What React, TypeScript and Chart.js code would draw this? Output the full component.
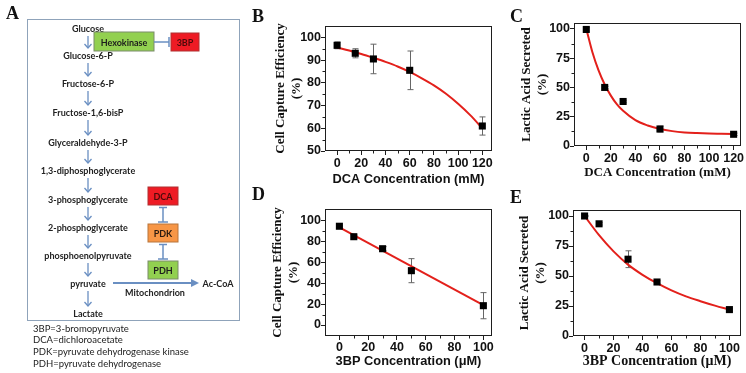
import React, { useEffect, useRef } from "react";
import { Chart, registerables } from "chart.js";

Chart.register(...registerables);

// ---------- Panel B: DCA vs cell capture efficiency ----------
const B_CONC = [0, 15, 30, 60, 120];
const B_EFF = [96.5, 93, 90.5, 85.5, 61];
const B_ERR = [1.5, 2, 6.5, 8.5, 4];
const B_FIT_X = [0, 10, 20, 30, 40, 50, 60, 70, 80, 90, 100, 110, 120];
const B_FIT_Y = [95.5, 94.2, 92.7, 91, 89.2, 87.2, 84.8, 82, 78.9, 75.2, 70.8, 65.8, 60];
const B_X_TICKS = [0, 20, 40, 60, 80, 100, 120];
const B_X_MINOR = [10, 30, 50, 70, 90, 110];
const B_Y_TICKS = [50, 60, 70, 80, 90, 100];
const B_Y_MINOR = [55, 65, 75, 85, 95];

// ---------- Panel C: DCA vs lactic acid ----------
const C_CONC = [0, 15, 30, 60, 120];
const C_LAC = [99.5, 50, 38, 14.5, 10];
const C_ERR = [1.5, 1, 1, 2.5, 1];
const C_FIT_X = [0, 5, 10, 15, 20, 25, 30, 40, 50, 60, 70, 80, 90, 100, 110, 120];
const C_FIT_Y = [100, 80, 64.5, 52.5, 43, 35.5, 30, 22, 17.5, 14.5, 12.7, 11.6, 11, 10.6, 10.4, 10.2];
const C_X_TICKS = [0, 20, 40, 60, 80, 100, 120];
const C_X_MINOR = [10, 30, 50, 70, 90, 110];
const C_Y_TICKS = [0, 25, 50, 75, 100];
const C_Y_MINOR = [12.5, 37.5, 62.5, 87.5];

// ---------- Panel D: 3BP vs cell capture efficiency ----------
const D_CONC = [0, 10, 30, 50, 100];
const D_EFF = [94.5, 84.5, 73, 52, 18.5];
const D_ERR = [1, 1.5, 2, 11.5, 12.5];
const D_FIT_X = [0, 100];
const D_FIT_Y = [93.5, 19];
const D_X_TICKS = [0, 20, 40, 60, 80, 100];
const D_X_MINOR = [10, 30, 50, 70, 90];
const D_Y_TICKS = [0, 20, 40, 60, 80, 100];
const D_Y_MINOR = [10, 30, 50, 70, 90];

// ---------- Panel E: 3BP vs lactic acid ----------
const E_CONC = [0, 10, 30, 50, 100];
const E_LAC = [100, 93.5, 64, 45, 22];
const E_ERR = [0.5, 1, 7, 1, 1];
const E_FIT_X = [0, 10, 20, 30, 40, 50, 60, 70, 80, 90, 100];
const E_FIT_Y = [100, 84, 70.5, 59.5, 51, 44, 38, 33, 29, 25.3, 22];
const E_X_TICKS = [0, 20, 40, 60, 80, 100];
const E_X_MINOR = [10, 30, 50, 70, 90];
const E_Y_TICKS = [0, 25, 50, 75, 100];
const E_Y_MINOR = [12.5, 37.5, 62.5, 87.5];

const SANS = '"Liberation Sans", Arial, sans-serif';
const SERIF = '"Liberation Serif", "Times New Roman", serif';
const RED = "#e3201b";
const AXIS = "#1e1e1e";

type Box = { left: number; top: number; width: number; height: number };
type Area = { left: number; top: number; right: number; bottom: number };

type PanelProps = {
  box: Box;
  area: Area;
  x: number[];
  y: number[];
  err: number[];
  fitX: number[];
  fitY: number[];
  xRange: [number, number];
  yRange: [number, number];
  xTicks: number[];
  xMinor: number[];
  yTicks: number[];
  yMinor: number[];
  xTitle: string;
  xTitleFamily: string;
  xTitleSize: number;
  xTitleCenterY: number;
  yTitle: string[];
  yTitleCenterX: number;
  xTickPad: number;
};

function Panel(p: PanelProps) {
  const ref = useRef<HTMLCanvasElement>(null);
  useEffect(() => {
    const canvas = ref.current;
    if (!canvas) return;
    const { box, area } = p;
    const lh = 1.2;
    const ySize = 13;
    const xTitlePad = box.top + box.height - p.xTitleCenterY - (p.xTitleSize * lh) / 2;
    const yTitlePad = p.yTitleCenterX - box.left - (ySize * lh) / 2;
    const tickFont = { family: SANS, size: 12.5, weight: "bold" as const };

    const decor = {
      id: "decor",
      beforeDatasetsDraw(chart: any) {
        const ctx = chart.ctx;
        const xs = chart.scales.x;
        const ys = chart.scales.y;
        ctx.save();
        ctx.strokeStyle = "#666";
        ctx.lineWidth = 1;
        p.x.forEach((v, i) => {
          const px = Math.round(xs.getPixelForValue(v)) + 0.5;
          const t = ys.getPixelForValue(p.y[i] + p.err[i]);
          const b = ys.getPixelForValue(p.y[i] - p.err[i]);
          ctx.beginPath();
          ctx.moveTo(px, t);
          ctx.lineTo(px, b);
          ctx.moveTo(px - 3, t);
          ctx.lineTo(px + 3, t);
          ctx.moveTo(px - 3, b);
          ctx.lineTo(px + 3, b);
          ctx.stroke();
        });
        ctx.restore();
      },
      afterDraw(chart: any) {
        const ctx = chart.ctx;
        const a = chart.chartArea;
        const xs = chart.scales.x;
        const ys = chart.scales.y;
        ctx.save();
        ctx.strokeStyle = AXIS;
        ctx.lineWidth = 1;
        ctx.strokeRect(a.left + 0.5, a.top + 0.5, a.right - a.left - 1, a.bottom - a.top - 1);
        ctx.beginPath();
        p.xMinor.forEach((v) => {
          const px = Math.round(xs.getPixelForValue(v)) + 0.5;
          ctx.moveTo(px, a.bottom);
          ctx.lineTo(px, a.bottom + 2.5);
        });
        p.yMinor.forEach((v) => {
          const py = Math.round(ys.getPixelForValue(v)) + 0.5;
          ctx.moveTo(a.left, py);
          ctx.lineTo(a.left - 2.5, py);
        });
        ctx.stroke();
        ctx.restore();
      },
    };

    const chart = new Chart(canvas, {
      type: "scatter",
      data: {
        datasets: [
          {
            type: "scatter",
            label: "measured",
            data: p.x.map((v, i) => ({ x: v, y: p.y[i] })),
            pointStyle: "rect",
            pointRadius: 5,
            backgroundColor: "#000",
            borderColor: "#000",
            borderWidth: 0,
            order: 0,
          } as any,
          {
            type: "line",
            label: "fit",
            data: p.fitX.map((v, i) => ({ x: v, y: p.fitY[i] })),
            borderColor: RED,
            borderWidth: 2,
            pointRadius: 0,
            fill: false,
            cubicInterpolationMode: "monotone",
            order: 1,
          } as any,
        ],
      },
      options: {
        animation: false,
        responsive: false,
        maintainAspectRatio: false,
        layout: {
          padding: {
            left: 0,
            top: area.top - box.top,
            right: box.left + box.width - area.right,
            bottom: 0,
          },
        },
        plugins: { legend: { display: false }, tooltip: { enabled: false } },
        scales: {
          x: {
            type: "linear",
            position: "bottom",
            min: p.xRange[0],
            max: p.xRange[1],
            afterBuildTicks: (s: any) => {
              s.ticks = p.xTicks.map((v) => ({ value: v }));
            },
            afterFit: (s: any) => {
              s.height = box.top + box.height - area.bottom;
            },
            grid: { drawOnChartArea: false, drawTicks: true, tickLength: 4, tickColor: AXIS, color: AXIS },
            border: { display: false },
            ticks: { autoSkip: false, maxRotation: 0, padding: p.xTickPad, color: "#111", font: tickFont },
            title: {
              display: true,
              text: p.xTitle,
              color: "#111",
              font: { family: p.xTitleFamily, size: p.xTitleSize, weight: "bold", lineHeight: lh },
              padding: { top: 0, bottom: xTitlePad },
            },
          },
          y: {
            type: "linear",
            position: "left",
            min: p.yRange[0],
            max: p.yRange[1],
            afterBuildTicks: (s: any) => {
              s.ticks = p.yTicks.map((v) => ({ value: v }));
            },
            afterFit: (s: any) => {
              s.width = area.left - box.left;
            },
            grid: { drawOnChartArea: false, drawTicks: true, tickLength: 4, tickColor: AXIS, color: AXIS },
            border: { display: false },
            ticks: { autoSkip: false, padding: 0, color: "#111", font: tickFont },
            title: {
              display: true,
              text: p.yTitle,
              color: "#111",
              font: { family: SERIF, size: ySize, weight: "bold", lineHeight: lh },
              padding: { top: yTitlePad, bottom: 0 },
            },
          },
        },
      } as any,
      plugins: [decor],
    });
    return () => chart.destroy();
  }, []);
  return (
    <canvas
      ref={ref}
      width={p.box.width}
      height={p.box.height}
      style={{ position: "absolute", left: p.box.left, top: p.box.top, width: p.box.width, height: p.box.height }}
    />
  );
}

// ---------- Panel A: pathway diagram ----------
const PATH_STEPS = [
  "Glucose",
  "Glucose-6-P",
  "Fructose-6-P",
  "Fructose-1,6-bisP",
  "Glyceraldehyde-3-P",
  "1,3-diphosphoglycerate",
  "3-phosphoglycerate",
  "2-phosphoglycerate",
  "phosphoenolpyruvate",
  "pyruvate",
  "Lactate",
];
const PATH_Y = [28, 55, 83, 112, 142, 170, 199, 227, 255, 283, 313];
const ABBREVIATIONS = [
  "3BP=3-bromopyruvate",
  "DCA=dichloroacetate",
  "PDK=pyruvate dehydrogenase kinase",
  "PDH=pyruvate dehydrogenase",
];

const DIAG_FONT = 'Lato, "Noto Sans", sans-serif';
const BLUE = "#6a8fc2";

function Diagram() {
  const cx = 88;
  const arrows = [];
  for (let i = 0; i < PATH_Y.length - 1; i++) {
    const y1 = PATH_Y[i] + 8;
    const y2 = PATH_Y[i + 1] - 7;
    arrows.push(
      <g key={"ar" + i} stroke={BLUE} strokeWidth={1.3} fill="none">
        <line x1={cx} y1={y1} x2={cx} y2={y2} />
        <polyline points={`${cx - 3.5},${y2 - 4} ${cx},${y2} ${cx + 3.5},${y2 - 4}`} />
      </g>
    );
  }
  const boxText = (x: number, y: number, w: number, h: number, fill: string, stroke: string, label: string, color: string) => (
    <g key={label}>
      <rect x={x} y={y} width={w} height={h} fill={fill} stroke={stroke} strokeWidth={1} />
      <text
        x={x + w / 2}
        y={y + h / 2 + 0.5}
        textAnchor="middle"
        dominantBaseline="central"
        fontFamily={DIAG_FONT}
        fontWeight="bold"
        fontSize={9}
        fill={color}
      >
        {label}
      </text>
    </g>
  );
  return (
    <g>
      <rect x={27.5} y={19.5} width={212} height={301} fill="none" stroke="#8fa3ba" strokeWidth={1} />
      {PATH_STEPS.map((s, i) => (
        <text
          key={s}
          x={cx}
          y={PATH_Y[i]}
          textAnchor="middle"
          dominantBaseline="central"
          fontFamily={DIAG_FONT}
          fontWeight="bold"
          fontSize={9}
          fill="#222"
        >
          {s}
        </text>
      ))}
      {arrows}
      {boxText(94, 32, 60, 19, "#92d050", "#7a8c6a", "Hexokinase", "#1d1d1d")}
      {boxText(171, 33, 28, 18, "#ee1b24", "#b03030", "3BP", "#4a0a0a")}
      <g stroke={BLUE} strokeWidth={1.5}>
        <line x1={154} y1={42} x2={169} y2={42} />
        <line x1={169} y1={37} x2={169} y2={47} />
      </g>
      {boxText(148, 187, 30, 18, "#ee1b24", "#b03030", "DCA", "#4a0a0a")}
      {boxText(148, 224, 30, 18, "#f79646", "#b8753a", "PDK", "#2a1a10")}
      {boxText(148, 261, 30, 18, "#92d050", "#7a8c6a", "PDH", "#1d1d1d")}
      <g stroke={BLUE} strokeWidth={1.5}>
        <line x1={163} y1={207} x2={163} y2={222} />
        <line x1={159} y1={207.5} x2={167} y2={207.5} />
        <line x1={158} y1={222} x2={168} y2={222} />
        <line x1={163} y1={244} x2={163} y2={259} />
        <line x1={159} y1={244.5} x2={167} y2={244.5} />
        <line x1={158} y1={259} x2={168} y2={259} />
      </g>
      <line x1={113} y1={283} x2={192} y2={283} stroke={BLUE} strokeWidth={2} />
      <polygon points="191,279 199,283 191,287" fill={BLUE} />
      <text x={218} y={283} textAnchor="middle" dominantBaseline="central" fontFamily={DIAG_FONT} fontWeight="bold" fontSize={9} fill="#222">
        Ac-CoA
      </text>
      <text x={155} y={292} textAnchor="middle" dominantBaseline="central" fontFamily={DIAG_FONT} fontWeight="bold" fontSize={9} fill="#222">
        Mitochondrion
      </text>
      {ABBREVIATIONS.map((s, i) => (
        <text key={s} x={33} y={328 + i * 11.7} dominantBaseline="central" fontFamily={DIAG_FONT} fontSize={9.5} fill="#222">
          {s}
        </text>
      ))}
    </g>
  );
}

const LETTERS = [
  { t: "A", x: 6, y: 19 },
  { t: "B", x: 252, y: 22 },
  { t: "C", x: 510, y: 22 },
  { t: "D", x: 252, y: 200 },
  { t: "E", x: 510, y: 203 },
];

export default function App() {
  return (
    <div style={{ position: "absolute", left: 0, top: 0, width: 746, height: 373, background: "#fff", overflow: "hidden" }}>
      <Panel
        box={{ left: 245, top: 0, width: 255, height: 192 }}
        area={{ left: 325, top: 26, right: 492, bottom: 151 }}
        x={B_CONC}
        y={B_EFF}
        err={B_ERR}
        fitX={B_FIT_X}
        fitY={B_FIT_Y}
        xRange={[-10, 128]}
        yRange={[50, 105]}
        xTicks={B_X_TICKS}
        xMinor={B_X_MINOR}
        yTicks={B_Y_TICKS}
        yMinor={B_Y_MINOR}
        xTitle="DCA Concentration (mM)"
        xTitleFamily={SANS}
        xTitleSize={12.8}
        xTitleCenterY={179}
        yTitle={["Cell Capture Efficiency", "(%)"]}
        yTitleCenterX={281}
        xTickPad={1}
      />
      <Panel
        box={{ left: 502, top: 0, width: 244, height: 188 }}
        area={{ left: 574, top: 23, right: 742, bottom: 146 }}
        x={C_CONC}
        y={C_LAC}
        err={C_ERR}
        fitX={C_FIT_X}
        fitY={C_FIT_Y}
        xRange={[-10, 126]}
        yRange={[0, 105]}
        xTicks={C_X_TICKS}
        xMinor={C_X_MINOR}
        yTicks={C_Y_TICKS}
        yMinor={C_Y_MINOR}
        xTitle="DCA Concentration (mM)"
        xTitleFamily={SERIF}
        xTitleSize={13}
        xTitleCenterY={173}
        yTitle={["Lactic Acid Secreted", "(%)"]}
        yTitleCenterX={527}
        xTickPad={1}
      />
      <Panel
        box={{ left: 245, top: 184, width: 255, height: 189 }}
        area={{ left: 325, top: 209, right: 492, bottom: 336 }}
        x={D_CONC}
        y={D_EFF}
        err={D_ERR}
        fitX={D_FIT_X}
        fitY={D_FIT_Y}
        xRange={[-10, 106]}
        yRange={[-10.5, 111]}
        xTicks={D_X_TICKS}
        xMinor={D_X_MINOR}
        yTicks={D_Y_TICKS}
        yMinor={D_Y_MINOR}
        xTitle="3BP Concentration (μM)"
        xTitleFamily={SANS}
        xTitleSize={12.8}
        xTitleCenterY={361.5}
        yTitle={["Cell Capture Efficiency", "(%)"]}
        yTitleCenterX={278}
        xTickPad={0}
      />
      <Panel
        box={{ left: 502, top: 184, width: 244, height: 189 }}
        area={{ left: 573, top: 210, right: 742, bottom: 336 }}
        x={E_CONC}
        y={E_LAC}
        err={E_ERR}
        fitX={E_FIT_X}
        fitY={E_FIT_Y}
        xRange={[-8, 108]}
        yRange={[0, 105]}
        xTicks={E_X_TICKS}
        xMinor={E_X_MINOR}
        yTicks={E_Y_TICKS}
        yMinor={E_Y_MINOR}
        xTitle="3BP Concentration (μM)"
        xTitleFamily={SERIF}
        xTitleSize={14}
        xTitleCenterY={361.5}
        yTitle={["Lactic Acid Secreted", "(%)"]}
        yTitleCenterX={525}
        xTickPad={1}
      />
      <svg
        width={746}
        height={373}
        viewBox="0 0 746 373"
        style={{ position: "absolute", left: 0, top: 0, pointerEvents: "none" }}
      >
        <Diagram />
        {LETTERS.map((l) => (
          <text key={l.t} x={l.x} y={l.y} fontFamily={SERIF} fontWeight="bold" fontSize={18} fill="#111">
            {l.t}
          </text>
        ))}
      </svg>
    </div>
  );
}
